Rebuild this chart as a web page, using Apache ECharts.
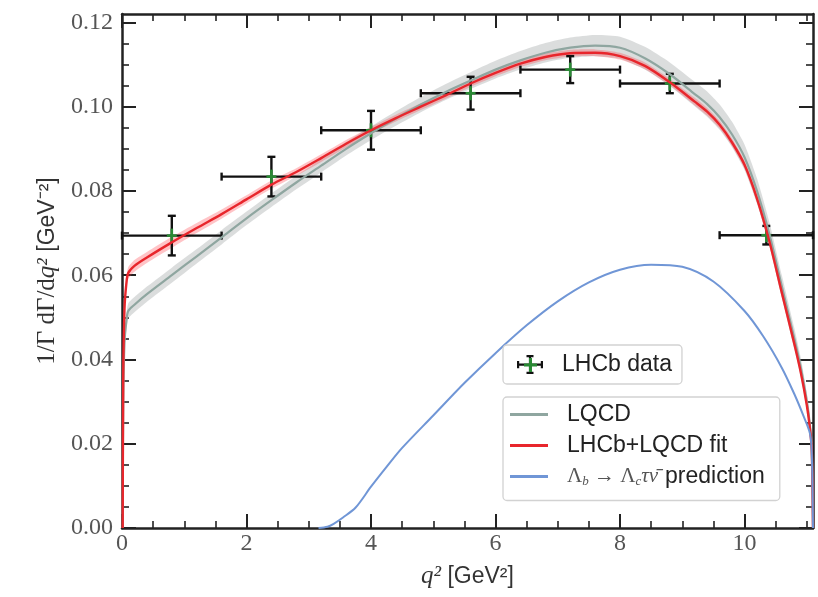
<!DOCTYPE html>
<html><head><meta charset="utf-8">
<script src="https://cdn.jsdelivr.net/npm/echarts@6/dist/echarts.min.js"></script>
<style>html,body{margin:0;padding:0;background:#fff}#c{width:818px;height:597px}</style>
</head><body><div id="c"></div>
<script>
// ---------- axis ticks ----------
const xMajorTicks = [0, 2, 4, 6, 8, 10];
const xMinorTicks = [0.5, 1, 1.5, 2.5, 3, 3.5, 4.5, 5, 5.5, 6.5, 7, 7.5, 8.5, 9, 9.5, 10.5, 11];
const yMajorTicks = [0, 0.02, 0.04, 0.06, 0.08, 0.10, 0.12];
const yMinorTicks = [0.005, 0.01, 0.015, 0.025, 0.03, 0.035, 0.045, 0.05, 0.055, 0.065, 0.07, 0.075,
                     0.085, 0.09, 0.095, 0.105, 0.11, 0.115];

// ---------- curves ----------
const q = [0.011, 0.02, 0.04, 0.07, 0.1, 0.2, 0.4, 0.8, 1.2, 1.6,
           2.0, 2.4, 2.8, 3.2, 3.6, 4.0, 4.4, 4.8, 5.2, 5.6,
           6.0, 6.4, 6.8, 7.2, 7.6, 8.0, 8.4, 8.8,
           9.2, 9.4, 9.6, 9.8, 10.0, 10.2, 10.4, 10.6, 10.8, 10.9, 11.0, 11.05, 11.08, 11.1];
const lqcd = [0, 0.030, 0.044, 0.049, 0.0515, 0.053, 0.0555, 0.0600, 0.0645, 0.0690,
              0.0735, 0.0778, 0.0820, 0.0860, 0.0900, 0.0937, 0.0972, 0.1005, 0.1035, 0.1062,
              0.1088, 0.1110, 0.1128, 0.1140, 0.1145, 0.1140, 0.1115, 0.1077,
              0.1030, 0.1006, 0.0975, 0.0934, 0.0880, 0.0800, 0.0697, 0.0573, 0.0450, 0.0384, 0.0302, 0.0245, 0.0190, 0];
const lqcdErr = [0, 0.0018, 0.0018, 0.0018, 0.0018, 0.0018, 0.0018, 0.0018, 0.0017, 0.0017,
                 0.0016, 0.0016, 0.0016, 0.0016, 0.0016, 0.0016, 0.0017, 0.0018, 0.0019, 0.0020,
                 0.0021, 0.0022, 0.0023, 0.0024, 0.0025, 0.0026, 0.0027, 0.0028,
                 0.0029, 0.0030, 0.0030, 0.0030, 0.0030, 0.0030, 0.0029, 0.0027, 0.0025, 0.0023, 0.0020, 0.0017, 0.0012, 0];
const fit = [0, 0.036, 0.052, 0.058, 0.0605, 0.0622, 0.0642, 0.0678, 0.0712, 0.0745,
             0.0780, 0.0815, 0.0845, 0.0878, 0.0912, 0.0944, 0.0973, 0.1000, 0.1027, 0.1055,
             0.1080, 0.1102, 0.1118, 0.1127, 0.1128, 0.1120, 0.1097, 0.1058,
             0.1012, 0.0988, 0.0957, 0.0915, 0.0862, 0.0782, 0.0680, 0.0558, 0.0437, 0.0372, 0.0292, 0.0237, 0.0185, 0];
const fitErr = [0, 0.0015, 0.0015, 0.0014, 0.0014, 0.0014, 0.0013, 0.0013, 0.0012, 0.0011,
                0.0010, 0.0010, 0.0009, 0.0009, 0.0009, 0.0008, 0.0008, 0.0008, 0.0008, 0.0008,
                0.0008, 0.0008, 0.0008, 0.0008, 0.0008, 0.0008, 0.0008, 0.0008,
                0.0009, 0.0009, 0.0009, 0.0009, 0.0009, 0.0009, 0.0009, 0.0009, 0.0008, 0.0008, 0.0007, 0.0006, 0.0005, 0];
const qTau = [3.157, 3.3, 3.4, 3.55, 3.75, 4.0, 4.25, 4.5, 5.0, 5.5,
              6.0, 6.5, 7.0, 7.5, 8.0, 8.5, 9.0, 9.5, 10.0, 10.3,
              10.6, 10.8, 10.95, 11.05, 11.08, 11.1];
const tauPred = [0, 0.0003, 0.0010, 0.0025, 0.0048, 0.0098, 0.0145, 0.0190, 0.0267, 0.0344,
                 0.0415, 0.0481, 0.0538, 0.0583, 0.0613, 0.0625, 0.0620, 0.0585, 0.0515, 0.0455,
                 0.0380, 0.0318, 0.0265, 0.0225, 0.0180, 0];

// ---------- LHCb data ----------
const binCenter = [0.8, 2.4, 4.0, 5.6, 7.2, 8.8, 10.35];
const binLow    = [0.0, 1.6, 3.2, 4.8, 6.4, 8.0, 9.6];
const binHigh   = [1.6, 3.2, 4.8, 6.4, 8.0, 9.6, 11.1];
const dataVal   = [0.0694, 0.0834, 0.0944, 0.1032, 0.1088, 0.1055, 0.0695];
const dataErr   = [0.0047, 0.0047, 0.0046, 0.0039, 0.0032, 0.0023, 0.0022];

const PRED = 'Λb → Λcτν̄ prediction';
const XMIN = 0, XMAX = 11.1, YMIN = 0, YMAX = 0.122;
const GRID = {left: 122, right: 5, top: 14, bottom: 69};
const TICK_COLOR = '#222';

function pairs(xs, ys) { return xs.map((x, i) => [x, ys[i]]); }

function band(center, err, fill) {
  return {
    type: 'custom', clip: true, silent: true,
    data: [[q[0], center[0]]],
    encode: {x: 0, y: 1},
    renderItem: function (params, api) {
      const pts = [];
      for (let i = 0; i < q.length; i++) pts.push(api.coord([q[i], center[i] + err[i]]));
      for (let i = q.length - 1; i >= 0; i--) pts.push(api.coord([q[i], Math.max(0, center[i] - err[i])]));
      return {type: 'polygon', shape: {points: pts, smooth: 0.2}, style: {fill: fill, stroke: null}};
    }
  };
}

function xAxisDef(grid, pos, ticks, len, main) {
  return {
    type: 'value', gridIndex: grid, position: pos, min: XMIN, max: XMAX,
    axisLine: {show: main, onZero: false, lineStyle: {color: TICK_COLOR, width: 2.5}},
    axisTick: {show: true, inside: true, length: len, customValues: ticks,
               lineStyle: {color: TICK_COLOR, width: main ? 2 : 1.6}},
    axisLabel: {show: false},
    splitLine: {show: false}
  };
}
function yAxisDef(grid, pos, ticks, len, main) {
  return {
    type: 'value', gridIndex: grid, position: pos, min: YMIN, max: YMAX,
    axisLine: {show: main, onZero: false, lineStyle: {color: TICK_COLOR, width: 2.5}},
    axisTick: {show: true, inside: true, length: len, customValues: ticks,
               lineStyle: {color: TICK_COLOR, width: main ? 2 : 1.6}},
    axisLabel: {show: false},
    splitLine: {show: false}
  };
}

const xBottom = xAxisDef(0, 'bottom', xMajorTicks, 14, true);
xBottom.axisLabel = {show: true, customValues: xMajorTicks, margin: 4,
  fontFamily: 'Liberation Serif', fontSize: 24, color: '#555'};
xBottom.name = '{i|q²}{b| [GeV²]}';
xBottom.nameLocation = 'middle';
xBottom.nameGap = 36;
xBottom.nameTextStyle = {rich: {
  i: {fontFamily: 'Liberation Serif', fontStyle: 'italic', fontSize: 25, color: '#333'},
  b: {fontFamily: 'Liberation Sans', fontSize: 23, color: '#333'}}};

const yLeft = yAxisDef(0, 'left', yMajorTicks, 14, true);
yLeft.axisLabel = {show: true, customValues: yMajorTicks, margin: 9,
  fontFamily: 'Liberation Serif', fontSize: 24, color: '#555',
  formatter: v => v.toFixed(2)};
yLeft.name = '{a|1/Γ dΓ/d}{i|q²}{b| [GeV⁻²]}';
yLeft.nameLocation = 'middle';
yLeft.nameGap = 62;
yLeft.nameTextStyle = {rich: {
  a: {fontFamily: 'Liberation Serif', fontSize: 25, color: '#333'},
  i: {fontFamily: 'Liberation Serif', fontStyle: 'italic', fontSize: 25, color: '#333'},
  b: {fontFamily: 'Liberation Sans', fontSize: 23, color: '#333'}}};

const legendRich = {
  g: {width: 14},
  g2: {width: 7},
  t: {fontFamily: 'Liberation Sans', fontSize: 23, color: '#222', lineHeight: 24},
  m: {fontFamily: 'Liberation Serif', fontSize: 21, color: '#555', lineHeight: 24},
  mi: {fontFamily: 'Liberation Serif', fontStyle: 'italic', fontSize: 21, color: '#555', lineHeight: 24},
  sub: {fontFamily: 'Liberation Serif', fontStyle: 'italic', fontSize: 13, color: '#555', verticalAlign: 'bottom', lineHeight: 20}
};
const legendBox = {
  orient: 'vertical', selectedMode: false,
  backgroundColor: 'rgba(255,255,255,0.85)', borderColor: '#d2d2d2', borderWidth: 1.3, borderRadius: 4,
  textStyle: {rich: legendRich}
};

const chart = echarts.init(document.getElementById('c'), null, {renderer: 'canvas'});
chart.setOption({
  animation: false,
  backgroundColor: '#fff',
  grid: [Object.assign({}, GRID), Object.assign({}, GRID)],
  xAxis: [xBottom, xAxisDef(0, 'top', xMajorTicks, 14, true),
          xAxisDef(1, 'bottom', xMinorTicks, 7, false), xAxisDef(1, 'top', xMinorTicks, 7, false)],
  yAxis: [yLeft, yAxisDef(0, 'right', yMajorTicks, 14, true),
          yAxisDef(1, 'left', yMinorTicks, 7, false), yAxisDef(1, 'right', yMinorTicks, 7, false)],
  legend: [
    Object.assign({}, legendBox, {
      left: 503, top: 345, padding: [8, 10, 8, 14],
      itemWidth: 26, itemHeight: 19,
      data: [{name: 'LHCb data',
        icon: 'path://M0,8.5h26v2.2h-26z M0,6h2.2v7.2h-2.2z M23.8,6h2.2v7.2h-2.2z M11.9,0h2.2v19h-2.2z M9.5,0h7v2.2h-7z M9.5,16.8h7v2.2h-7z'}],
      formatter: name => '{g| }{t|' + name + '}'
    }),
    Object.assign({}, legendBox, {
      left: 503, top: 397, padding: [6, 15, 12, 7],
      itemWidth: 38, itemHeight: 3, itemGap: 8,
      data: [{name: 'LQCD', icon: 'rect'}, {name: 'LHCb+LQCD fit', icon: 'rect'}, {name: PRED, icon: 'rect'}],
      formatter: name => name === PRED
        ? '{g| }{m|Λ}{sub|b}{m| → Λ}{sub|c}{mi|τν̄}{g2| }{t|prediction}'
        : '{g| }{t|' + name + '}'
    })
  ],
  graphic: [
    {type: 'rect', left: 529, top: 358, shape: {width: 3, height: 14}, style: {fill: '#2a8a35'}, z: 100},
    {type: 'rect', left: 524, top: 363.5, shape: {width: 13, height: 3}, style: {fill: '#2a8a35'}, z: 100}
  ],
  series: [
    band(lqcd, lqcdErr, 'rgba(160,165,165,0.38)'),
    band(fit, fitErr, 'rgba(255,60,70,0.30)'),
    {name: 'LQCD', type: 'line', data: pairs(q, lqcd), showSymbol: false, symbol: 'none',
     smooth: 0.3, color: '#8fa6a0', lineStyle: {width: 2.2, color: '#8fa6a0'}},
    {name: 'LHCb+LQCD fit', type: 'line', data: pairs(q, fit), showSymbol: false, symbol: 'none',
     smooth: 0.3, color: '#e8262c', lineStyle: {width: 2.4, color: '#e8262c'}},
    {name: PRED, type: 'line', data: pairs(qTau, tauPred), showSymbol: false, symbol: 'none',
     smooth: 0.3, color: '#7096d6', lineStyle: {width: 2, color: '#7096d6'}},
    {name: 'LHCb data', type: 'custom', color: '#111',
     data: binCenter.map((x, i) => [x, dataVal[i], binLow[i], binHigh[i], dataErr[i]]),
     encode: {x: 0, y: 1},
     renderItem: function (params, api) {
       const x = api.value(0), y = api.value(1), xl = api.value(2), xh = api.value(3), e = api.value(4);
       const c = api.coord([x, y]), l = api.coord([xl, y]), r = api.coord([xh, y]);
       const t = api.coord([x, y + e]), b = api.coord([x, y - e]);
       const black = {stroke: '#111', lineWidth: 2.4};
       const green = {stroke: '#2a8a35', lineWidth: 2.6};
       const seg = (x1, y1, x2, y2, st) => ({type: 'line', shape: {x1, y1, x2, y2}, style: st});
       return {type: 'group', children: [
         seg(l[0], l[1], r[0], r[1], black),
         seg(l[0], l[1] - 4, l[0], l[1] + 4, black),
         seg(r[0], r[1] - 4, r[0], r[1] + 4, black),
         seg(t[0], t[1], b[0], b[1], black),
         seg(t[0] - 4, t[1], t[0] + 4, t[1], black),
         seg(b[0] - 4, b[1], b[0] + 4, b[1], black),
         seg(c[0], c[1] - 7, c[0], c[1] + 7, green),
         seg(c[0] - 5, c[1], c[0] + 5, c[1], green)
       ]};
     }}
  ]
});
</script></body></html>
